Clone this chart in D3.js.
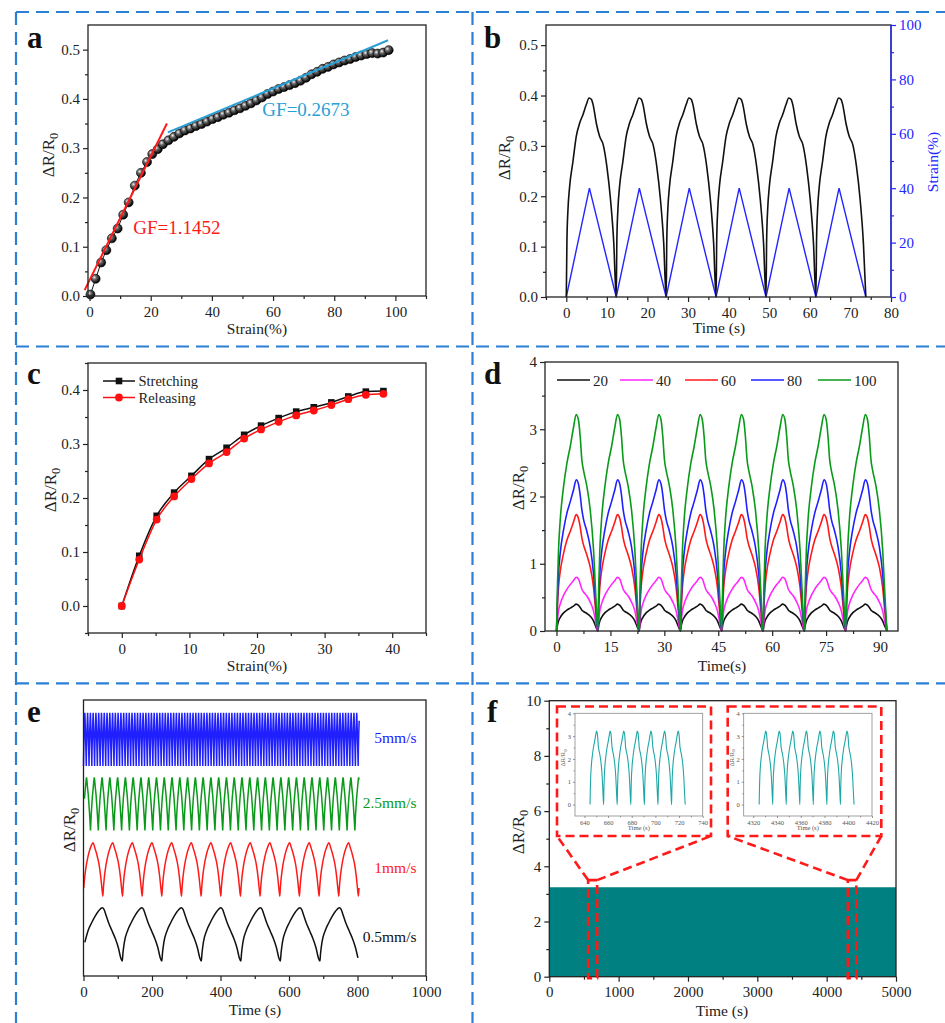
<!DOCTYPE html>
<html>
<head>
<meta charset="utf-8">
<script src="https://cdn.jsdelivr.net/npm/d3@7"></script>
<style>
  body { margin: 0; background: #fff; }
  svg text { font-family: "Liberation Serif", "Times New Roman", serif; }
</style>
</head>
<body>
<svg id="fig" width="945" height="1023"></svg>
<script>
// ---------- data ----------

// (a) strain sweep with two linear fits
const strainA = [0.3, 2, 3.8, 5.5, 7.3, 9.2, 11, 12.8, 14.8, 16.8, 18.8, 20.5, 22.3, 24, 25.8, 27.6, 29.4, 31.2, 33, 34.8,
  36.6, 38.4, 40.2, 42, 43.8, 45.6, 47.4, 49.2, 51, 52.8, 54.6, 56.4, 58.2, 60, 61.8, 63.6, 65.4, 67.2, 69, 70.8,
  72.6, 74.4, 76.2, 78, 79.8, 81.6, 83.4, 85.2, 87, 88.8, 90.6, 92.4, 94.2, 96, 97.8];
const drA = [0.003, 0.035, 0.068, 0.093, 0.117, 0.137, 0.165, 0.19, 0.224, 0.25, 0.272, 0.288, 0.298, 0.308, 0.316, 0.323, 0.330, 0.336, 0.340, 0.345,
  0.349, 0.354, 0.359, 0.363, 0.368, 0.372, 0.377, 0.381, 0.386, 0.391, 0.397, 0.403, 0.41, 0.415, 0.42, 0.424, 0.428, 0.432, 0.437, 0.443,
  0.45, 0.455, 0.461, 0.465, 0.47, 0.474, 0.478, 0.481, 0.485, 0.488, 0.491, 0.493, 0.492, 0.494, 0.499];
const fitRedX = [-1.6, 25.3], fitRedY = [0.012, 0.35];
const fitBlueX = [25.6, 97.6], fitBlueY = [0.332, 0.519];

// (b) cyclic test at 40 % strain
const cycleTimeB = [0, 0.16, 0.41, 0.82, 1.64, 2.46, 3.28, 4.1, 4.93, 5.6, 6.2, 6.6, 7.4, 8.2, 9.1, 10, 10.9, 11.7, 12.3];
const cycleValB = [0, 0.113, 0.173, 0.219, 0.269, 0.319, 0.345, 0.362, 0.382, 0.395, 0.392, 0.382, 0.345, 0.319, 0.302, 0.259, 0.193, 0.107, 0];
const cycleStartB = [0, 12.3, 24.6, 36.9, 49.2, 61.5];
const strainTimeB = [0, 5.7, 12.3];
const strainValB = [0, 40, 0];

// (c) stretching / releasing
const strainC = [0, 2.58, 5.16, 7.74, 10.3, 12.9, 15.5, 18.1, 20.6, 23.2, 25.8, 28.4, 31, 33.5, 36.1, 38.7];
const stretchC = [0, 0.093, 0.167, 0.21, 0.241, 0.272, 0.293, 0.317, 0.334, 0.348, 0.36, 0.368, 0.377, 0.388, 0.397, 0.398];
const releaseC = [0, 0.086, 0.16, 0.203, 0.235, 0.264, 0.285, 0.31, 0.327, 0.341, 0.353, 0.362, 0.372, 0.383, 0.391, 0.393];

// (d) cycles at different strains
const strainLevelsD = ["20", "40", "60", "80", "100"];
const cycleTimeD = [0, 0.28, 0.56, 1.02, 1.95, 2.88, 3.81, 4.74, 5.48, 6.13, 6.59, 7.06, 7.52, 8.45, 9.38, 10.3, 10.9, 11.49];
const valsD20 = [0, 0.09, 0.15, 0.2, 0.27, 0.31, 0.34, 0.37, 0.4, 0.38, 0.35, 0.31, 0.29, 0.26, 0.22, 0.15, 0.07, 0];
const valsD40 = [0, 0.17, 0.3, 0.4, 0.53, 0.62, 0.69, 0.75, 0.8, 0.77, 0.7, 0.62, 0.58, 0.52, 0.43, 0.3, 0.14, 0];
const valsD60 = [0, 0.38, 0.65, 0.88, 1.15, 1.35, 1.48, 1.62, 1.73, 1.67, 1.55, 1.38, 1.28, 1.13, 0.95, 0.65, 0.3, 0];
const valsD80 = [0, 0.5, 0.85, 1.15, 1.5, 1.75, 1.92, 2.1, 2.25, 2.18, 2.02, 1.8, 1.66, 1.48, 1.25, 0.85, 0.4, 0];
const valsD100 = [0, 0.71, 1.2, 1.64, 2.14, 2.49, 2.74, 3.03, 3.22, 3.13, 2.89, 2.54, 2.39, 2.15, 1.8, 1.21, 0.56, 0];
const cycleStartD = [0, 11.49, 22.98, 34.47, 45.96, 57.45, 68.94, 80.43];

// (e) stretching speeds (curves are offset vertically)
const speedLabelsE = ["0.5mm/s", "1mm/s", "2.5mm/s", "5mm/s"];
const offsetE = [0.28, 1.5, 2.73, 3.94];
const periodE = [115.4, 57.4, 22.7, 8.1];
const firstStartE = [-2.2, -0.8, -2.2, 0];
const endTimeE = 805;
const shapeTimeE = [
  [0, 2, 6, 16, 26, 35, 45, 57, 62, 67, 76, 86, 94, 104, 111, 115.4],
  [0, 1.5, 4.7, 9, 14.5, 22, 28.5, 31, 34, 38.8, 42, 46, 51, 55, 57.4],
  [0, 2, 5, 8, 10, 11, 12, 14, 16, 18, 20, 22.7],
  [0, 0.7, 1.8, 3, 3.9, 4.5, 5.3, 6.2, 7.2, 8.1]
];
const shapeValE = [
  [0, 0.15, 0.35, 0.58, 0.72, 0.83, 0.93, 1, 0.97, 0.88, 0.71, 0.56, 0.44, 0.25, 0.06, 0],
  [0, 0.15, 0.38, 0.58, 0.76, 0.92, 1, 0.97, 0.9, 0.8, 0.72, 0.6, 0.37, 0.12, 0],
  [0, 0.3, 0.6, 0.82, 0.95, 1, 0.95, 0.8, 0.68, 0.5, 0.3, 0],
  [0, 0.3, 0.6, 0.85, 1, 0.9, 0.72, 0.5, 0.25, 0]
];

// (f) long-term test: envelope of the dense signal + two zoomed windows
const envelopeT = [0, 5000];
const envelopeV = [3.24, 3.24];
const zoomWindowsT = [[560, 690], [4305, 4428]];
const zoomTop = 3.5;
const insetDomains = [[632, 740], [4312, 4420]];
const insetTicks = [[640, 660, 680, 700, 720, 740], [4320, 4340, 4360, 4380, 4400, 4420]];
const insetStarts = [
  [644.7, 656.2, 667.7, 679.2, 690.7, 702.2, 713.7],
  [4325, 4336.4, 4347.8, 4359.2, 4370.6, 4382, 4393.4]
];

// ---------- drawing ----------
const FONT = '"Liberation Serif", "Times New Roman", serif';
const svg = d3.select("#fig");
svg.append("rect").attr("width", 945).attr("height", 1023).attr("fill", "#fff");

// repeat one measured cycle at each start time
function repeatCycle(starts, shapeT, shapeV, offset = 0) {
  const pts = [];
  starts.forEach(s => shapeT.forEach((t, i) => pts.push([s + t, shapeV[i] + offset])));
  return pts;
}

function frame(g, x, y) {
  const [x0, x1] = x.range(), [y0, y1] = y.range();
  g.append("rect")
    .attr("x", x0).attr("y", y1)
    .attr("width", x1 - x0).attr("height", y0 - y1)
    .attr("fill", "none").attr("stroke", "#222").attr("stroke-width", 1.3);
}

function addAxis(g, axisFn, scale, pos, major, minor, fmt, opts = {}) {
  const color = opts.color || "#222";
  const horizontal = axisFn === d3.axisBottom;
  const tr = horizontal ? `translate(0,${pos})` : `translate(${pos},0)`;
  const size = opts.size || 15;
  if (minor) {
    const m = g.append("g").attr("transform", tr)
      .call(axisFn(scale).tickValues(minor).tickSize(opts.minorLen || 3).tickFormat(""));
    m.select(".domain").remove();
    m.selectAll("line").attr("stroke", color).attr("stroke-width", opts.tickWidth || 1.2);
  }
  const a = g.append("g").attr("transform", tr)
    .call(axisFn(scale).tickValues(major).tickSize(opts.majorLen || 5)
      .tickPadding(opts.pad != null ? opts.pad : (horizontal ? 5 : 3)).tickFormat(fmt));
  a.select(".domain").remove();
  a.attr("font-family", FONT).attr("font-size", size);
  a.selectAll("line").attr("stroke", color).attr("stroke-width", opts.tickWidth || 1.2);
  a.selectAll("text").attr("fill", color);
  return a;
}

function yTitle(g, x, y, color = "#222", size = 17) {
  const t = g.append("text")
    .attr("transform", `translate(${x},${y}) rotate(-90)`)
    .attr("text-anchor", "middle").attr("font-size", size).attr("fill", color);
  t.append("tspan").text("ΔR/R");
  t.append("tspan").attr("dy", size * 0.25).attr("font-size", size * 0.72).text("0");
}

function xTitle(g, x, y, label, size = 15.5) {
  g.append("text").attr("x", x).attr("y", y)
    .attr("text-anchor", "middle").attr("font-size", size).attr("fill", "#222").text(label);
}

function letter(x, y, ch) {
  svg.append("text").attr("x", x).attr("y", y)
    .attr("font-size", 31).attr("font-weight", "bold").attr("fill", "#111").text(ch);
}

const f1 = d3.format(".1f");
const fInt = d3.format("d");

// ---- panel a ----
{
  const g = svg.append("g");
  const x = d3.scaleLinear().domain([-0.5, 110]).range([88, 426]);
  const y = d3.scaleLinear().domain([0, 0.55]).range([296, 25]);

  const defs = svg.append("defs");
  const grad = defs.append("radialGradient").attr("id", "ball")
    .attr("cx", "35%").attr("cy", "35%").attr("r", "65%");
  grad.append("stop").attr("offset", "0%").attr("stop-color", "#f2f2f2");
  grad.append("stop").attr("offset", "35%").attr("stop-color", "#6a6a6a");
  grad.append("stop").attr("offset", "100%").attr("stop-color", "#000");

  const pts = strainA.map((s, i) => [s, drA[i]]);
  g.append("path").datum(pts)
    .attr("d", d3.line().x(d => x(d[0])).y(d => y(d[1])))
    .attr("fill", "none").attr("stroke", "#111").attr("stroke-width", 1);
  g.selectAll("circle.pt").data(pts).join("circle")
    .attr("cx", d => x(d[0])).attr("cy", d => y(d[1])).attr("r", 4.5)
    .attr("fill", "url(#ball)").attr("stroke", "#000").attr("stroke-width", 0.6);

  const fitLine = d3.line().x(d => x(d[0])).y(d => y(d[1]));
  g.append("path").datum(fitRedX.map((v, i) => [v, fitRedY[i]]))
    .attr("d", fitLine).attr("stroke", "#ff1a1a").attr("stroke-width", 2);
  g.append("path").datum(fitBlueX.map((v, i) => [v, fitBlueY[i]]))
    .attr("d", fitLine).attr("stroke", "#2a9fd6").attr("stroke-width", 2);

  g.append("text").attr("x", x(14.3)).attr("y", y(0.126))
    .attr("font-size", 19).attr("fill", "#ff1a1a").text("GF=1.1452");
  g.append("text").attr("x", x(56.5)).attr("y", y(0.366))
    .attr("font-size", 19).attr("fill", "#2a9fd6").text("GF=0.2673");

  frame(g, x, y);
  addAxis(g, d3.axisBottom, x, 296, [0, 20, 40, 60, 80, 100], [10, 30, 50, 70, 90, 110], fInt);
  addAxis(g, d3.axisLeft, y, 88, [0, 0.1, 0.2, 0.3, 0.4, 0.5], [0.05, 0.15, 0.25, 0.35, 0.45], f1);
  yTitle(g, 54, 155);
  xTitle(g, 257, 334, "Strain(%)");
}

// ---- panel b ----
{
  const g = svg.append("g");
  const x = d3.scaleLinear().domain([-5, 80]).range([546, 891]);
  const y = d3.scaleLinear().domain([0, 0.54]).range([297, 25]);
  const yR = d3.scaleLinear().domain([0, 100]).range([297, 25]);

  const line = d3.line().x(d => x(d[0])).y(d => y(d[1]));
  g.append("path").datum(repeatCycle(cycleStartB, strainTimeB, strainValB))
    .attr("d", d3.line().x(d => x(d[0])).y(d => yR(d[1])))
    .attr("fill", "none").attr("stroke", "#2525ff").attr("stroke-width", 1.4);
  g.append("path").datum(repeatCycle(cycleStartB, cycleTimeB, cycleValB))
    .attr("d", line.curve(d3.curveMonotoneX))
    .attr("fill", "none").attr("stroke", "#111").attr("stroke-width", 1.6);

  frame(g, x, y);
  g.append("line").attr("x1", 891).attr("x2", 891).attr("y1", 25).attr("y2", 297)
    .attr("stroke", "#2525ff").attr("stroke-width", 1.3);
  addAxis(g, d3.axisBottom, x, 297, d3.range(0, 81, 10), [-5, 5, 15, 25, 35, 45, 55, 65, 75], fInt);
  addAxis(g, d3.axisLeft, y, 546, [0, 0.1, 0.2, 0.3, 0.4, 0.5], [0.05, 0.15, 0.25, 0.35, 0.45], f1);
  addAxis(g, d3.axisRight, yR, 891, [0, 20, 40, 60, 80, 100], [10, 30, 50, 70, 90], fInt, { color: "#2525ff" });
  yTitle(g, 510, 158);
  xTitle(g, 719, 333, "Time (s)");
  g.append("text").attr("transform", "translate(938,162) rotate(-90)")
    .attr("text-anchor", "middle").attr("font-size", 15.5).attr("fill", "#2525ff").text("Strain(%)");
}

// ---- panel c ----
{
  const g = svg.append("g");
  const x = d3.scaleLinear().domain([-5, 45]).range([88, 426]);
  const y = d3.scaleLinear().domain([-0.05, 0.45]).range([633, 363]);
  const line = d3.line().x(d => x(d[0])).y(d => y(d[1])).curve(d3.curveMonotoneX);

  const rel = strainC.map((s, i) => [s, releaseC[i]]);
  const str = strainC.map((s, i) => [s, stretchC[i]]);
  g.append("path").datum(str).attr("d", line)
    .attr("fill", "none").attr("stroke", "#111").attr("stroke-width", 1.5);
  g.selectAll("rect.sq").data(str).join("rect")
    .attr("x", d => x(d[0]) - 3.3).attr("y", d => y(d[1]) - 3.3)
    .attr("width", 6.6).attr("height", 6.6).attr("fill", "#111");
  g.append("path").datum(rel).attr("d", line)
    .attr("fill", "none").attr("stroke", "#ff1010").attr("stroke-width", 1.5);
  g.selectAll("circle.rl").data(rel).join("circle")
    .attr("cx", d => x(d[0])).attr("cy", d => y(d[1])).attr("r", 3.9).attr("fill", "#ff1010");

  // legend
  g.append("line").attr("x1", 103).attr("x2", 135).attr("y1", 381).attr("y2", 381)
    .attr("stroke", "#111").attr("stroke-width", 1.5);
  g.append("rect").attr("x", 115.7).attr("y", 377.7).attr("width", 6.6).attr("height", 6.6).attr("fill", "#111");
  g.append("text").attr("x", 138.5).attr("y", 386).attr("font-size", 14.5).attr("fill", "#222").text("Stretching");
  g.append("line").attr("x1", 103).attr("x2", 135).attr("y1", 397.5).attr("y2", 397.5)
    .attr("stroke", "#ff1010").attr("stroke-width", 1.5);
  g.append("circle").attr("cx", 119).attr("cy", 397.5).attr("r", 3.9).attr("fill", "#ff1010");
  g.append("text").attr("x", 138.5).attr("y", 402.5).attr("font-size", 14.5).attr("fill", "#222").text("Releasing");

  frame(g, x, y);
  addAxis(g, d3.axisBottom, x, 633, [0, 10, 20, 30, 40], [-5, 5, 15, 25, 35, 45], fInt);
  addAxis(g, d3.axisLeft, y, 88, [0, 0.1, 0.2, 0.3, 0.4], [-0.05, 0.05, 0.15, 0.25, 0.35, 0.45], f1);
  yTitle(g, 56, 490);
  xTitle(g, 257, 671, "Strain(%)");
}

// ---- panel d ----
{
  const g = svg.append("g");
  const x = d3.scaleLinear().domain([-3.2, 95]).range([545, 898]);
  const y = d3.scaleLinear().domain([0, 4]).range([631, 362]);
  const line = d3.line().x(d => x(d[0])).y(d => y(d[1])).curve(d3.curveMonotoneX);
  const colorsD = ["#111111", "#ff26ff", "#ff1a1a", "#2020ff", "#0a9a1a"];
  const valsD = [valsD20, valsD40, valsD60, valsD80, valsD100];

  valsD.forEach((vals, k) => {
    g.append("path").datum(repeatCycle(cycleStartD, cycleTimeD, vals))
      .attr("d", line).attr("fill", "none")
      .attr("stroke", colorsD[k]).attr("stroke-width", 1.6);
  });

  // legend
  const legX = [557, 620, 685, 751, 818];
  strainLevelsD.forEach((lab, k) => {
    g.append("line").attr("x1", legX[k]).attr("x2", legX[k] + 33).attr("y1", 380).attr("y2", 380)
      .attr("stroke", colorsD[k]).attr("stroke-width", 1.6);
    g.append("text").attr("x", legX[k] + 36).attr("y", 385.5)
      .attr("font-size", 15).attr("fill", "#222").text(lab);
  });

  frame(g, x, y);
  addAxis(g, d3.axisBottom, x, 631, d3.range(0, 91, 15), [7.5, 22.5, 37.5, 52.5, 67.5, 82.5], fInt);
  addAxis(g, d3.axisLeft, y, 545, [0, 1, 2, 3, 4], [0.5, 1.5, 2.5, 3.5], fInt);
  yTitle(g, 524, 488);
  xTitle(g, 722, 671, "Time(s)");
}

// ---- panel e ----
{
  const g = svg.append("g");
  const x = d3.scaleLinear().domain([0, 1000]).range([83.5, 426]);
  const y = d3.scaleLinear().domain([0, 5.18]).range([976, 700]);
  const line = d3.line().x(d => x(d[0])).y(d => y(d[1]));
  const colorsE = ["#111111", "#ff1a1a", "#0a9a1a", "#2020ff"];
  const labelY = [942, 873, 808, 743];

  periodE.forEach((p, k) => {
    const starts = d3.range(firstStartE[k], endTimeE, p);
    const pts = repeatCycle(starts, shapeTimeE[k], shapeValE[k], offsetE[k])
      .filter(d => d[0] >= 0 && d[0] <= endTimeE);
    g.append("path").datum(pts)
      .attr("d", line.curve(k < 2 ? d3.curveMonotoneX : d3.curveLinear))
      .attr("fill", "none").attr("stroke", colorsE[k]).attr("stroke-width", 1.5);
    g.append("text").attr("x", 416.5).attr("y", labelY[k]).attr("text-anchor", "end")
      .attr("font-size", 15.5).attr("fill", colorsE[k]).text(speedLabelsE[k]);
  });

  frame(g, x, y);
  addAxis(g, d3.axisBottom, x, 976, d3.range(0, 1001, 200), d3.range(100, 1000, 200), fInt);
  yTitle(g, 75, 830);
  xTitle(g, 255, 1015, "Time (s)");
}

// ---- panel f ----
{
  const g = svg.append("g");
  const x = d3.scaleLinear().domain([0, 5000]).range([549.3, 896]);
  const y = d3.scaleLinear().domain([0, 10]).range([976.7, 700.7]);

  g.append("path").datum(envelopeT.map((t, i) => [t, envelopeV[i]]))
    .attr("d", d3.area().x(d => x(d[0])).y0(y(0)).y1(d => y(d[1])))
    .attr("fill", "#008080");

  frame(g, x, y);
  addAxis(g, d3.axisBottom, x, 976.7, d3.range(0, 5001, 1000), d3.range(500, 5000, 1000), fInt);
  addAxis(g, d3.axisLeft, y, 549.3, d3.range(0, 11, 2), d3.range(1, 10, 2), fInt);
  yTitle(g, 524, 832);
  xTitle(g, 722, 1016, "Time (s)");

  // zoom markers and call-out boxes
  const red = "#ff1a1a";
  const dash = g.append("g").attr("fill", "none").attr("stroke", red)
    .attr("stroke-width", 2.6).attr("stroke-dasharray", "9,5");
  const boxes = [[557, 711], [727.7, 881.3]];
  const boxTop = 706.5, boxBottom = 836;
  zoomWindowsT.forEach((w, k) => {
    dash.append("rect").attr("x", x(w[0])).attr("y", y(zoomTop))
      .attr("width", x(w[1]) - x(w[0])).attr("height", y(-0.05) - y(zoomTop));
    dash.append("rect").attr("x", boxes[k][0]).attr("y", boxTop)
      .attr("width", boxes[k][1] - boxes[k][0]).attr("height", boxBottom - boxTop);
    dash.append("line").attr("x1", x(w[0])).attr("y1", y(zoomTop)).attr("x2", boxes[k][0]).attr("y2", boxBottom);
    dash.append("line").attr("x1", x(w[1])).attr("y1", y(zoomTop)).attr("x2", boxes[k][1]).attr("y2", boxBottom);
  });

  // insets
  const insetLeft = [575, 743.7], insetRight = [702.7, 872];
  insetDomains.forEach((dom, k) => {
    const ig = g.append("g");
    const ix = d3.scaleLinear().domain(dom).range([insetLeft[k], insetRight[k]]);
    const iy = d3.scaleLinear().domain([-0.5, 4]).range([816, 713.3]);
    ig.append("rect").attr("x", insetLeft[k]).attr("y", 713.3)
      .attr("width", insetRight[k] - insetLeft[k]).attr("height", 816 - 713.3)
      .attr("fill", "#fff").attr("stroke", "#8a8a8a").attr("stroke-width", 0.8);
    ig.append("path").datum(repeatCycle(insetStarts[k], cycleTimeD, valsD100))
      .attr("d", d3.line().x(d => ix(d[0])).y(d => iy(d[1])).curve(d3.curveMonotoneX))
      .attr("fill", "none").attr("stroke", "#1fa7a7").attr("stroke-width", 1.1);
    const ticks = insetTicks[k];
    const minor = ticks.slice(0, -1).map(t => t + 10);
    const small = { color: "#555", size: 6.5, majorLen: 2, minorLen: 1.3, pad: 2, tickWidth: 0.6 };
    addAxis(ig, d3.axisBottom, ix, 816, ticks, minor, fInt, small);
    addAxis(ig, d3.axisLeft, iy, insetLeft[k], [0, 1, 2, 3, 4], [0.5, 1.5, 2.5, 3.5], fInt, small);
    yTitle(ig, insetLeft[k] - 10, 758, "#555", 6.5);
    ig.append("text").attr("x", (insetLeft[k] + insetRight[k]) / 2).attr("y", 830)
      .attr("text-anchor", "middle").attr("font-size", 6.5).attr("fill", "#555").text("Time (s)");
  });
}

// panel letters
letter(27, 48, "a");
letter(484, 48, "b");
letter(27, 384, "c");
letter(484, 384, "d");
letter(27, 722, "e");
letter(487, 722, "f");

// blue dashed separators
const sep = svg.append("g").attr("stroke", "#2b7fd6").attr("stroke-width", 2.2)
  .attr("stroke-dasharray", "13,7").attr("fill", "none");
sep.append("line").attr("x1", 16).attr("y1", 12).attr("x2", 945).attr("y2", 12);
sep.append("line").attr("x1", 16).attr("y1", 346.5).attr("x2", 945).attr("y2", 346.5);
sep.append("line").attr("x1", 16).attr("y1", 683.3).attr("x2", 945).attr("y2", 683.3);
sep.append("line").attr("x1", 16).attr("y1", 12).attr("x2", 16).attr("y2", 1023);
sep.append("line").attr("x1", 472.5).attr("y1", 12).attr("x2", 472.5).attr("y2", 1023);
</script>
</body>
</html>
